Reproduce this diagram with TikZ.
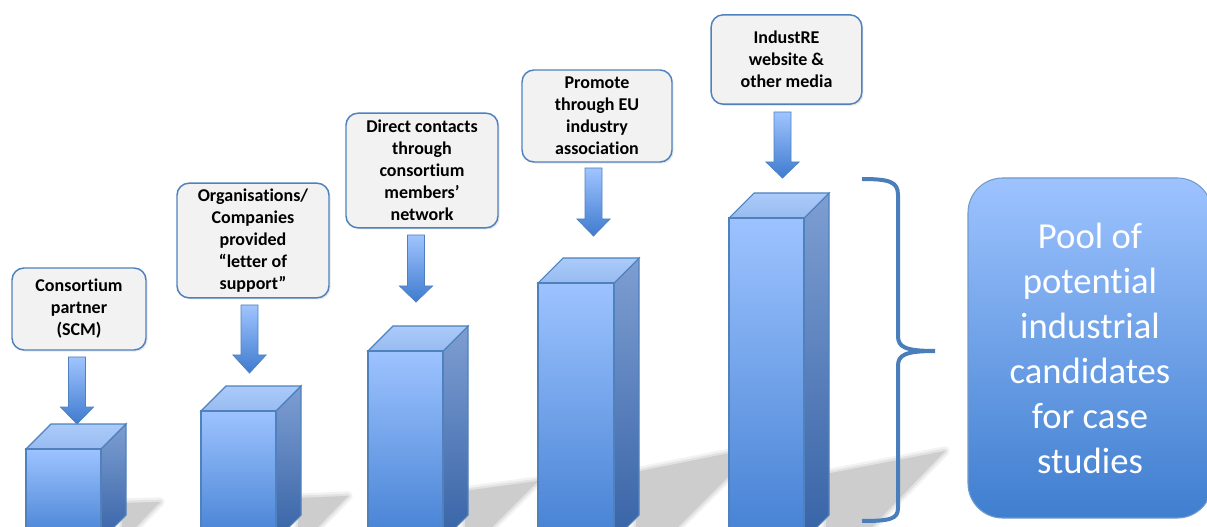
\documentclass[tikz,border=0pt]{standalone}
\usepackage{fontspec}
\setmainfont{Carlito}[Ligatures=NoCommon]
\usetikzlibrary{shadows}
\definecolor{edgeblue}{HTML}{4F81BD}
\definecolor{frontA}{HTML}{9DC3FF}
\definecolor{frontB}{HTML}{4581D3}
\definecolor{sideA}{HTML}{7E9ED2}
\definecolor{sideB}{HTML}{3763A6}
\definecolor{topA}{HTML}{AACBFA}
\definecolor{topB}{HTML}{98BBF0}
\definecolor{arrA}{HTML}{A0C4FF}
\definecolor{arrB}{HTML}{3F7BCF}
\definecolor{poolA}{HTML}{9DC3FF}
\definecolor{poolB}{HTML}{3F7ECF}
\definecolor{labelfill}{HTML}{F2F2F2}
\definecolor{bracecol}{HTML}{4A7EBB}
\definecolor{shadowgrey}{HTML}{CDCDCD}
\newcommand{\blkarrowdown}[4]{%
  \path[arrowstyle] (#1-8.5,#2) -- (#1+8.5,#2) -- (#1+8.5,#3) -- (#1+16.5,#3)
    -- (#1,#4) -- (#1-16.5,#3) -- (#1-8.5,#3) -- cycle;}
\newcommand{\threedbar}[3]{%
  \path[sidestyle] (#2,#3) -- (#2+25,#3-25) -- (#2+25,515) -- (#2,540) -- cycle;
  \path[topstyle] (#1,#3) -- (#1+25,#3-25) -- (#2+25,#3-25) -- (#2,#3) -- cycle;
  \path[frontstyle] (#1,#3) rectangle (#2,540);}
\newcommand{\groundshadow}[1]{%
  \path[shadowsoft,line width=7pt,opacity=0.25] #1;
  \path[shadowsoft,line width=3.5pt,opacity=0.45] #1;
  \path[fill=shadowgrey] #1;}
\begin{document}
\begin{tikzpicture}[x=0.75pt,y=-0.75pt,
  labelbox/.style={draw=edgeblue,line width=1.1pt,fill=labelfill,rounded corners=9pt,
    align=center,font=\fontsize{13.5}{16.5}\selectfont\bfseries,inner sep=0pt,
    drop shadow={opacity=0.18,shadow xshift=1.2pt,shadow yshift=-1.2pt}},
  arrowstyle/.style={draw=edgeblue,line width=0.6pt,top color=arrA,bottom color=arrB},
  frontstyle/.style={draw=edgeblue,line width=0.8pt,top color=frontA,bottom color=frontB},
  sidestyle/.style={draw=edgeblue,line width=0.8pt,top color=sideA,bottom color=sideB},
  topstyle/.style={draw=edgeblue,line width=0.8pt,top color=topA,bottom color=topB},
  shadowsoft/.style={fill=shadowgrey,draw=shadowgrey,line join=round},
  poolbox/.style={draw=edgeblue!80,line width=0.8pt,top color=poolA,bottom color=poolB,
    rounded corners=26pt,align=center,text=white,
    font=\fontsize{27.5}{33.75}\selectfont,inner sep=0pt},
  bracestyle/.style={draw=bracecol,line width=3pt}]
\useasboundingbox (0,0) rectangle (1207,527);
\begin{scope}
\clip (0,0) rectangle (1207,527);
% ground shadows
\groundshadow{(122,503) -- (160,502) -- (136,527) -- (122,527) -- cycle}
\groundshadow{(298,498) -- (348,496) -- (318,527) -- (298,527) -- cycle}
\groundshadow{(465,491) -- (538,481) -- (492,527) -- (465,527) -- cycle}
\groundshadow{(636,472) -- (735,452) -- (735,470) -- (678,527) -- (636,527) -- cycle}
\groundshadow{(826,474) -- (945,451) -- (872,527) -- (826,527) -- cycle}
% bars
\threedbar{26}{101}{449}
\threedbar{201}{276}{411}
\threedbar{368}{443}{351}
\threedbar{538}{614}{283}
\threedbar{729}{804}{218}
\end{scope}
% label boxes
\node[labelbox,minimum width=100.5pt,minimum height=61.5pt] (l1) at (79,309)
  {Consortium\\partner\\(SCM)};
\node[labelbox,minimum width=114pt,minimum height=86pt] (l2) at (253,240.5)
  {Organisations/\\Companies\\provided\\“letter of\\support”};
\node[labelbox,minimum width=114pt,minimum height=86pt] (l3) at (422,170.5)
  {Direct contacts\\through\\consortium\\members’\\network};
\node[labelbox,minimum width=112.5pt,minimum height=69pt] (l4) at (597,116)
  {Promote\\through EU\\industry\\association};
\node[labelbox,minimum width=113pt,minimum height=67pt] (l5) at (786.5,59.5)
  {IndustRE\\website \&\\other media};
% block arrows
\blkarrowdown{77}{357}{407}{424}
\blkarrowdown{249.5}{305}{355}{373}
\blkarrowdown{416}{235}{286}{302}
\blkarrowdown{593.5}{168}{219}{236}
\blkarrowdown{782.5}{112}{162}{178}
% brace
\draw[bracestyle] (862,179) .. controls (890,179) and (898,182) .. (898,195)
  -- (898,336) .. controls (898,347) and (905,351) .. (935,351)
  .. controls (905,351) and (898,355) .. (898,366)
  -- (898,508) .. controls (898,519) and (890,521) .. (862,521);
% pool box
\begin{scope}
\clip (0,0) rectangle (1207,527);
\node[poolbox,minimum width=183pt,minimum height=255pt] (pool) at (1090,348)
  {Pool of\\potential\\industrial\\candidates\\for case\\studies};
\end{scope}
\end{tikzpicture}
\end{document}
